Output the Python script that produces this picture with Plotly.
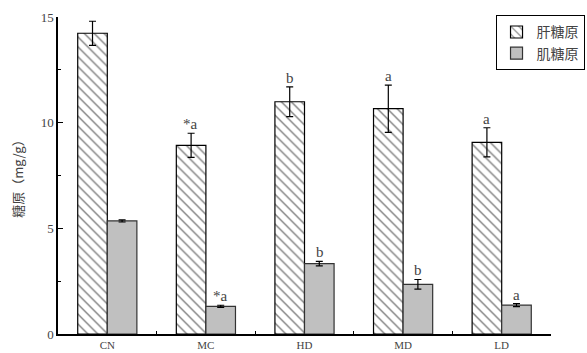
import plotly.graph_objects as go

# Glycogen content per group (mg/g)
groups = ["CN", "MC", "HD", "MD", "LD"]
liver_mean = [14.23, 8.93, 10.99, 10.66, 9.07]
liver_err = [0.57, 0.57, 0.70, 1.12, 0.69]
muscle_mean = [5.35, 1.31, 3.33, 2.35, 1.37]
muscle_err = [0.05, 0.05, 0.11, 0.23, 0.07]
liver_marks = ["", "*a", "b", "a", "a"]
muscle_marks = ["", "*a", "b", "b", "a"]

serif = "Liberation Serif"
cjk = "Noto Sans CJK SC"
ink = "#444444"

fig = go.Figure()
fig.add_trace(go.Bar(
    name="肝糖原", x=groups, y=liver_mean,
    marker=dict(color="white",
                line=dict(color="black", width=1.2),
                pattern=dict(shape="\\", fgcolor="black", bgcolor="white",
                             size=7, solidity=0.2)),
    error_y=dict(type="data", array=liver_err, color="black",
                 thickness=1.2, width=3.5),
))
fig.add_trace(go.Bar(
    name="肌糖原", x=groups, y=muscle_mean,
    marker=dict(color="#c0c0c0", line=dict(color="#333333", width=1.2)),
    error_y=dict(type="data", array=muscle_err, color="black",
                 thickness=1.2, width=3.5),
))

# Significance letters above each error bar
for g, m, e, t in zip(groups, liver_mean, liver_err, liver_marks):
    if t:
        fig.add_annotation(x=g, y=m + e, text=t, showarrow=False,
                           xshift=-15, yanchor="bottom", yshift=-1,
                           font=dict(family=serif, size=15, color=ink))
for g, m, e, t in zip(groups, muscle_mean, muscle_err, muscle_marks):
    if t:
        fig.add_annotation(x=g, y=m + e, text=t, showarrow=False,
                           xshift=15, yanchor="bottom", yshift=-1,
                           font=dict(family=serif, size=15, color=ink))

fig.update_layout(
    width=587, height=353,
    margin=dict(l=58, r=36, t=17, b=19, autoexpand=False),
    plot_bgcolor="white", paper_bgcolor="white",
    barmode="group", bargap=0.4, bargroupgap=0,
    showlegend=True,
    legend=dict(x=1.068, xanchor="right", y=1.005, yanchor="top",
                bordercolor="black", borderwidth=1, bgcolor="white",
                font=dict(family=cjk, size=14, color=ink),
                tracegroupgap=0, itemwidth=30),
    xaxis=dict(range=[-0.5, 4.5], showline=True, linecolor="black",
               linewidth=1.5, ticks="inside", ticklen=3, tickwidth=1,
               tickcolor="black", tickson="boundaries", automargin=False,
               tickfont=dict(family=serif, size=11, color=ink),
               showgrid=False, zeroline=False),
    yaxis=dict(range=[0, 15], showline=True, linecolor="black",
               linewidth=1.5, ticks="inside", ticklen=5, tickwidth=1,
               tickcolor="black", tickvals=[0, 5, 10, 15], automargin=False,
               minor=dict(ticks="inside", ticklen=3, dtick=2.5,
                          tickcolor="black", showgrid=False),
               tickfont=dict(family=serif, size=13, color=ink),
               title=dict(text="糖原（mg/g）", standoff=14,
                          font=dict(family=cjk, size=13, color=ink)),
               showgrid=False, zeroline=False),
)

fig.write_html("out.html")
